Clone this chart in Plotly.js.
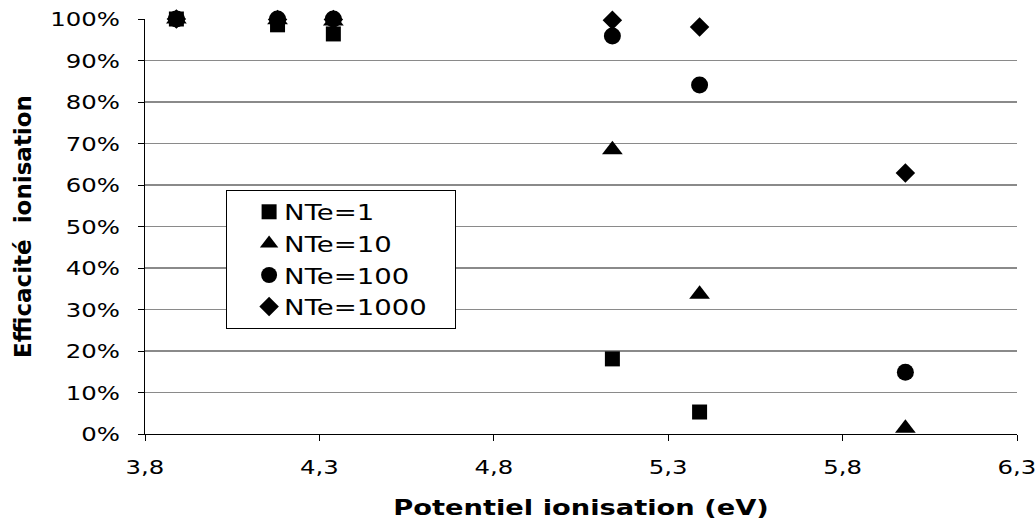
<!DOCTYPE html>
<html>
<head>
<meta charset="utf-8">
<script src="https://cdn.plot.ly/plotly-3.0.1.min.js"></script>
<style>html,body{margin:0;padding:0;background:#fff;}#chart{width:1035px;height:522px;}</style>
</head>
<body>
<div id="chart"></div>
<script>
// Ionisation potential (eV)
const potentiel = [3.89, 4.18, 4.34, 5.14, 5.39, 5.98];
// Ionisation efficiency (fraction)
const nte1    = [1.000, 0.986, 0.964, 0.181, 0.053, null];
const nte10   = [1.000, 0.998, 0.995, 0.685, 0.337, 0.014];
const nte100  = [1.000, 1.000, 1.000, 0.959, 0.841, 0.149];
const nte1000 = [1.000, 0.999, 0.999, 0.997, 0.981, 0.629];
const seriesNames = ['NTe=1', 'NTe=10', 'NTe=100', 'NTe=1000'];
const xTicks = [3.8, 4.3, 4.8, 5.3, 5.8, 6.3];
const yTicks = [0, 0.1, 0.2, 0.3, 0.4, 0.5, 0.6, 0.7, 0.8, 0.9, 1.0];

const symbols = ['square', 'triangle-up', 'circle', 'diamond'];
const sizes = [15, 18, 17, 15];
const allY = [nte1, nte10, nte100, nte1000];

const traces = allY.map((ys, i) => ({
  x: potentiel, y: ys, name: seriesNames[i], type: 'scatter', mode: 'markers',
  marker: {symbol: symbols[i], size: sizes[i], color: '#000', line: {width: 0}},
  cliponaxis: false
}));

const font = 'DejaVu Sans, Verdana, sans-serif';
const layout = {
  width: 1035, height: 522,
  margin: {l: 145, r: 18, t: 19, b: 88},
  paper_bgcolor: '#fff', plot_bgcolor: '#fff',
  separators: ', ',
  showlegend: true,
  font: {family: font, color: '#000'},
  xaxis: {
    range: [3.8, 6.3], tickvals: xTicks, tickformat: '.1f',
    showgrid: false, zeroline: false, showline: true, linecolor: '#000', linewidth: 1,
    ticks: 'outside', ticklen: 6, tickcolor: '#000', ticklabelstandoff: 9,
    tickfont: {size: 20, family: font},
    title: {text: 'Potentiel ionisation (eV)', font: {size: 21, family: font, weight: 'bold'}, standoff: 22}
  },
  yaxis: {
    range: [0, 1], tickvals: yTicks, tickformat: '.0%',
    showgrid: true, gridcolor: '#8a8a8a', gridwidth: 1.5, zeroline: false,
    showline: true, linecolor: '#000', linewidth: 1,
    ticks: 'outside', ticklen: 6, tickcolor: '#000', ticklabelstandoff: 14,
    tickfont: {size: 20, family: font},
    title: {text: 'Efficacité\u00a0 ionisation', font: {size: 23, family: font, weight: 'bold'}, standoff: 24}
  },
  legend: {
    x: 0.093, y: 0.588, xanchor: 'left', yanchor: 'top',
    bgcolor: '#fff', bordercolor: '#000', borderwidth: 1,
    font: {size: 22, family: font}, itemwidth: 30, tracegroupgap: 0
  }
};

function stretch(el, s) {
  const x = parseFloat(el.getAttribute('x') || 0);
  const y = parseFloat(el.getAttribute('y') || 0);
  const old = el.getAttribute('transform') || '';
  el.setAttribute('transform', old + ' translate(' + x + ',' + y + ') scale(' + s + ',1) translate(' + (-x) + ',' + (-y) + ')');
}

Plotly.newPlot('chart', traces, layout, {displayModeBar: false, staticPlot: true}).then(gd => {
  gd.querySelectorAll('.xtick text, .ytick text').forEach(t => stretch(t, 1.22));
  gd.querySelectorAll('text.xtitle').forEach(t => stretch(t, 1.3));
  gd.querySelectorAll('.legend text.legendtext').forEach(t => {
    t.setAttribute('x', parseFloat(t.getAttribute('x')) + 17);
    stretch(t, 1.25);
  });
  gd.querySelectorAll('.legend .legendpoints').forEach(p => {
    const old = p.getAttribute('transform') || '';
    p.setAttribute('transform', 'translate(22,0) ' + old);
  });
  gd.querySelectorAll('.legend rect.bg').forEach(r => { r.setAttribute('width', 229); });
  document.querySelectorAll('clipPath[id^="legend"] rect').forEach(r => { r.setAttribute('width', 260); });
  gd.querySelectorAll('.legend .scrollbox').forEach(s => s.removeAttribute('clip-path'));
});
</script>
</body>
</html>
